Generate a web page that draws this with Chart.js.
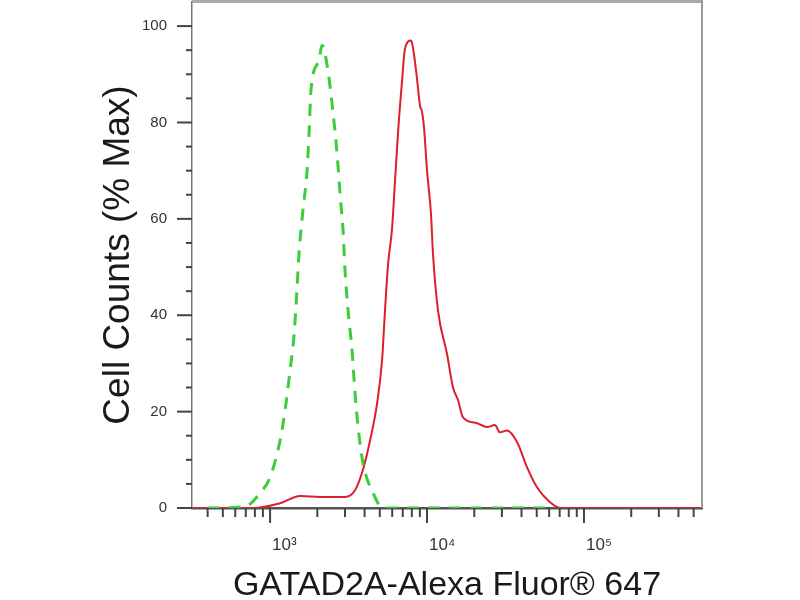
<!DOCTYPE html>
<html lang="en">
<head>
  <meta charset="UTF-8" />
  <title>GATAD2A - Alexa Fluor 647</title>
  <script src="https://cdn.jsdelivr.net/npm/chart.js"></script>
  <style>
    body { margin: 0; background: #fff; }
    canvas { display: block; }
  </style>
</head>
<body>

  <canvas id="histograma" width="800" height="600"></canvas>

  <script>
    // control isotipo (verde, discontinua)
    const controlX = [400, 690, 863, 1000, 1158, 1246, 1341, 1422, 1486, 1530, 1622, 1721, 1772, 1825, 2051, 2142, 2306, 2519, 2672, 2793, 2918, 3000, 3140, 3328, 3478, 3636, 3909, 4527, 5245, 60000];
    const controlY = [0, 0.3, 3.1, 6.4, 14, 20.3, 28.6, 36, 45.8, 53, 62, 70, 78, 87, 93, 96, 92, 82, 73.5, 65, 57.5, 49.5, 41, 32.7, 23.8, 16.8, 9.3, 3.1, 0, 0];

    // GATAD2A (rojo)
    const marcadoX = [320, 780, 1158, 1553, 2081, 3003, 3478, 3909, 4335, 4806, 5168, 5398, 5643, 5986, 6256, 6538, 6930, 7244, 7914, 8147, 8637, 9026, 9250, 9569, 10000, 10600, 10910, 11740, 13400, 14640, 15750, 16950, 20800, 24080, 27080, 29150, 32340, 37450, 43340, 50180, 60740, 70290, 565000];
    const marcadoY = [0, 0, 1.0, 2.5, 2.3, 2.3, 3.7, 8, 14, 21.7, 30.6, 41, 50.5, 58, 68, 78, 88.6, 95.4, 97, 95.4, 89, 83.4, 82.5, 78.9, 70, 61, 52.8, 41, 32, 25, 22.4, 18.8, 17.6, 16.8, 17.2, 15.7, 16.1, 13.7, 8.5, 4.3, 1.2, 0, 0];

    const yTicks = [0, 20, 40, 60, 80, 100];
    const xDecadas = [1e3, 1e4, 1e5];
    const xEtiquetas = ['10³', '10⁴', '10⁵'];
    const tituloX = 'GATAD2A-Alexa Fluor® 647';
    const tituloY = 'Cell Counts (% Max)';

    const fuente = "'Liberation Sans', Arial, sans-serif";

    function puntos(xs, ys) {
      return xs.map((x, i) => ({ x: x, y: ys[i] }));
    }

    // marcas menores/mayores y marco gris arriba/derecha
    const marcas = {
      id: 'marcas',
      afterDraw(chart) {
        const { ctx, chartArea: a, scales: { x, y } } = chart;
        ctx.save();
        ctx.strokeStyle = '#444';
        ctx.lineWidth = 2;

        for (let v = 0; v <= 100; v += 5) {
          const py = y.getPixelForValue(v);
          const largo = yTicks.includes(v) ? 15 : 6;
          ctx.beginPath();
          ctx.moveTo(a.left - largo, py);
          ctx.lineTo(a.left, py);
          ctx.stroke();
        }

        for (let d = 100; d <= 1e5; d *= 10) {
          for (let m = 1; m < 10; m++) {
            const v = d * m;
            if (v < x.min || v > x.max) continue;
            const px = x.getPixelForValue(v);
            const largo = m === 1 ? 15 : 9;
            ctx.beginPath();
            ctx.moveTo(px, a.bottom);
            ctx.lineTo(px, a.bottom + largo);
            ctx.stroke();
          }
        }

        ctx.strokeStyle = '#aaa';
        ctx.lineWidth = 3;
        ctx.beginPath();
        ctx.moveTo(a.left, 1.5);
        ctx.lineTo(a.right + 1, 1.5);
        ctx.stroke();

        ctx.strokeStyle = '#999';
        ctx.lineWidth = 2;
        ctx.beginPath();
        ctx.moveTo(a.right, 0);
        ctx.lineTo(a.right, a.bottom);
        ctx.stroke();
        ctx.restore();
      }
    };

    function sinRelleno(s) {
      s.paddingTop = 0;
      s.paddingBottom = 0;
      s.paddingLeft = 0;
      s.paddingRight = 0;
    }

    new Chart(document.getElementById('histograma'), {
      type: 'line',
      data: {
        datasets: [
          {
            label: 'Isotype control',
            data: puntos(controlX, controlY),
            borderColor: '#3ccc3c',
            borderWidth: 3,
            borderDash: [12, 9],
            pointRadius: 0,
            cubicInterpolationMode: 'monotone',
            fill: false
          },
          {
            label: 'GATAD2A',
            data: puntos(marcadoX, marcadoY),
            borderColor: '#dc1f2c',
            borderWidth: 2,
            pointRadius: 0,
            cubicInterpolationMode: 'monotone',
            fill: false
          }
        ]
      },
      options: {
        responsive: false,
        animation: false,
        layout: { padding: { top: 2, right: 98, bottom: 0, left: 0 } },
        plugins: {
          legend: { display: false },
          tooltip: { enabled: false }
        },
        scales: {
          x: {
            type: 'logarithmic',
            min: 318,
            max: 565000,
            afterBuildTicks: s => { s.ticks = xDecadas.map(v => ({ value: v })); },
            afterFit: s => { s.height = 92; sinRelleno(s); },
            grid: { display: false, drawTicks: false },
            border: { color: '#555', width: 2.5 },
            ticks: {
              align: 'start',
              padding: 27,
              labelOffset: 2,
              autoSkip: false,
              maxRotation: 0,
              color: '#333',
              font: { family: fuente, size: 17 },
              callback: (v, i) => xEtiquetas[i]
            },
            title: {
              display: true,
              text: tituloX,
              color: '#1a1a1a',
              font: { family: fuente, size: 34, lineHeight: 0.85 },
              padding: { top: 0, bottom: 0 }
            }
          },
          y: {
            min: 0,
            max: 105,
            afterBuildTicks: s => { s.ticks = yTicks.map(v => ({ value: v })); },
            afterFit: s => { s.width = 192; sinRelleno(s); },
            grid: { display: false, drawTicks: false },
            border: { color: '#777', width: 1.5 },
            ticks: {
              padding: 25,
              color: '#333',
              font: { family: fuente, size: 15 }
            },
            title: {
              display: true,
              text: tituloY,
              color: '#1a1a1a',
              font: { family: fuente, size: 37 },
              padding: { top: 97, bottom: 0 }
            }
          }
        }
      },
      plugins: [marcas]
    });
  </script>

</body>
</html>
